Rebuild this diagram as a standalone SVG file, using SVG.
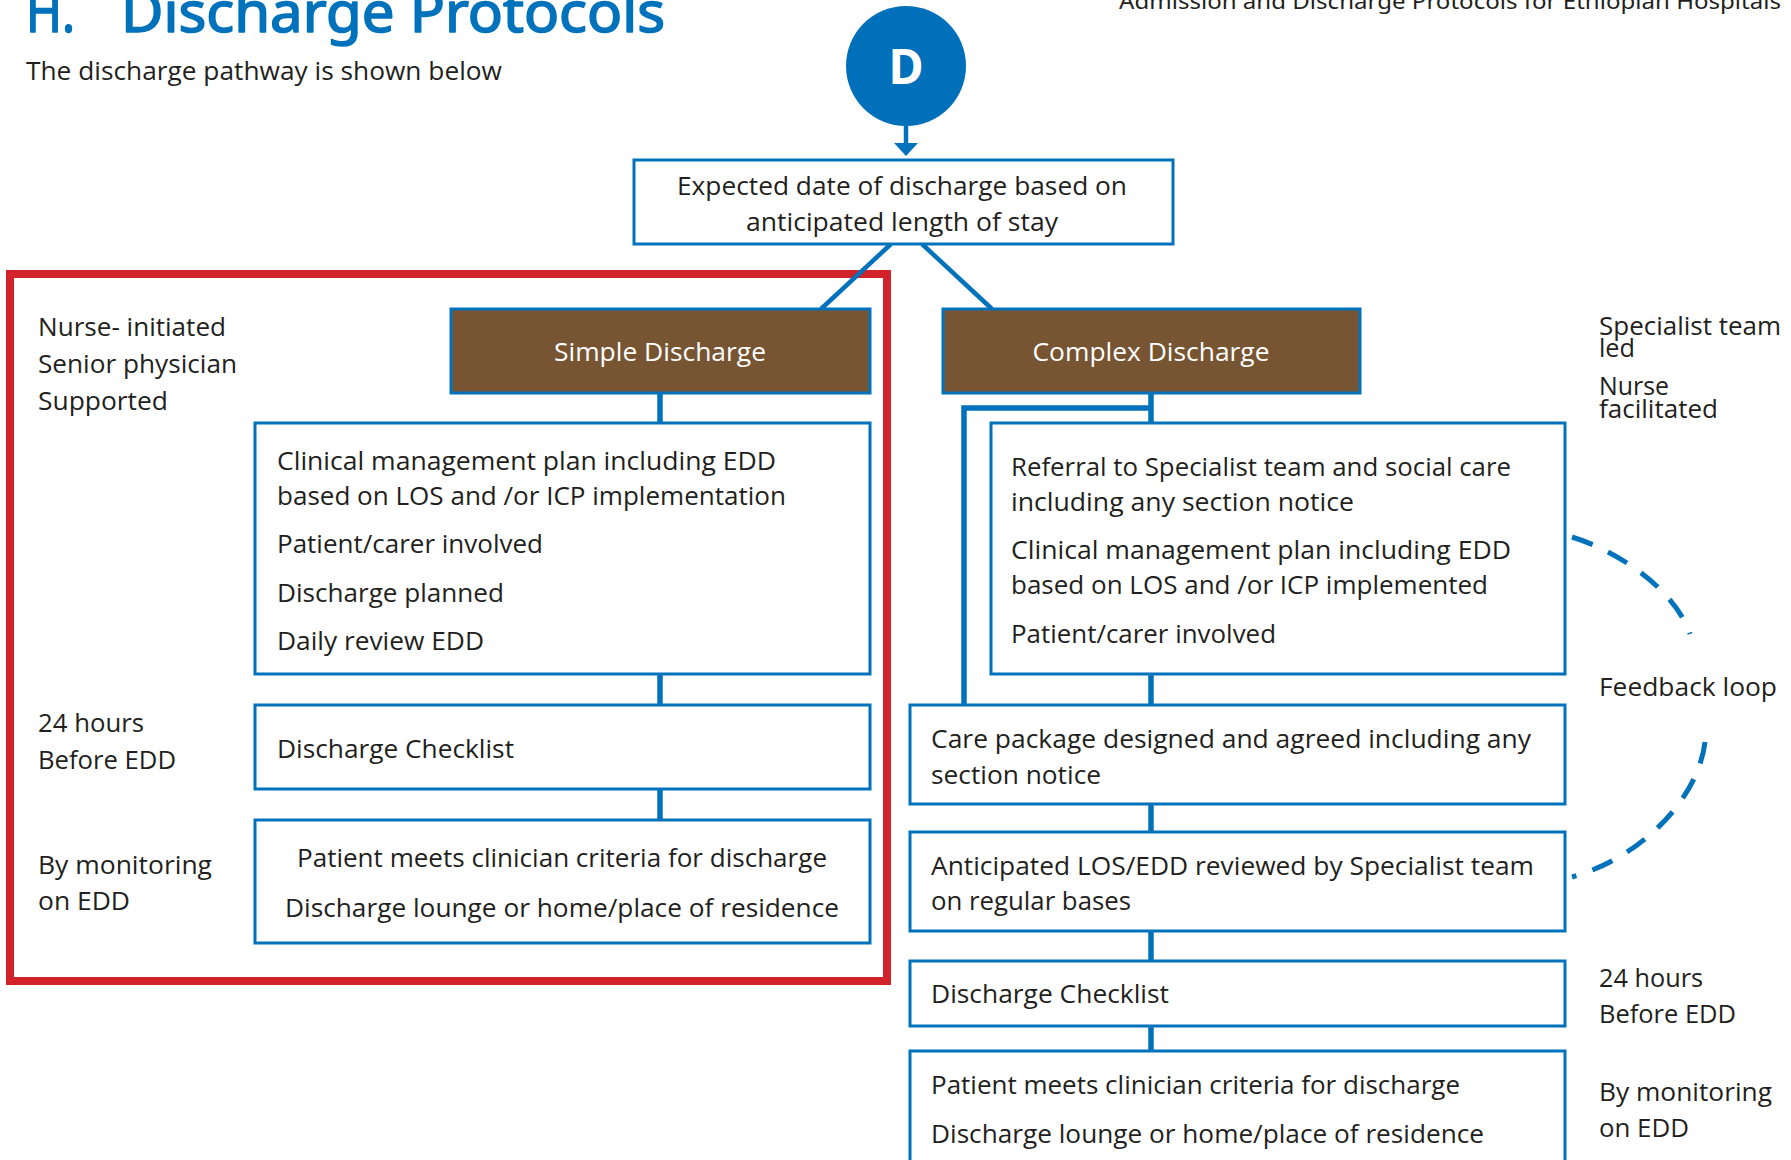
<svg xmlns="http://www.w3.org/2000/svg" width="1791" height="1160" viewBox="0 0 1791 1160">
<style>
.t{font-family:"Open Sans","Noto Sans",sans-serif;font-size:26px;fill:#231F20}
.w{fill:#FFFFFF}
.box{fill:#FFFFFF;stroke:#0072BC;stroke-width:3}
.brown{fill:#785532;stroke:#0072BC;stroke-width:3}
.conn{stroke:#0072BC;stroke-width:5.5;fill:none}
.diag{stroke:#0072BC;stroke-width:4.5;fill:none}
.dash{stroke:#0072BC;stroke-width:5;fill:none;stroke-dasharray:22 17}
.title{font-family:"Noto Sans","Open Sans",sans-serif;fill:#0072BC;stroke:#0072BC;stroke-width:1.6;stroke-linejoin:round}
</style>
<rect width="1791" height="1160" fill="#FFFFFF"/>

<g id="header">
<text class="title" x="26" y="32" font-size="56" textLength="49" lengthAdjust="spacingAndGlyphs">H.</text>
<text class="title" x="121" y="32" font-size="56" textLength="544" lengthAdjust="spacingAndGlyphs">Discharge Protocols</text>
<text x="1119" y="9" font-family="Noto Sans, sans-serif" font-size="22" fill="#231F20" textLength="662" lengthAdjust="spacingAndGlyphs">Admission and Discharge Protocols for Ethiopian Hospitals</text>
<text class="t" x="26" y="80" textLength="476" lengthAdjust="spacingAndGlyphs">The discharge pathway is shown below</text>
</g>

<g id="simple-region">
<rect x="10" y="274" width="877" height="707" fill="none" stroke="#D2232A" stroke-width="8"/>
</g>

<g id="connectors">
<line class="diag" x1="906" y1="126" x2="906" y2="145" stroke-width="4"/>
<polygon points="894,143 918,143 906,156" fill="#0072BC"/>
<line class="diag" x1="891" y1="244" x2="821" y2="309"/>
<line class="diag" x1="922" y1="244" x2="992" y2="309"/>
<line class="conn" x1="660" y1="393" x2="660" y2="423"/>
<line class="conn" x1="660" y1="674" x2="660" y2="705"/>
<line class="conn" x1="660" y1="789" x2="660" y2="820"/>
<line class="conn" x1="1151" y1="393" x2="1151" y2="423"/>
<polyline class="conn" points="1151,408 964,408 964,705"/>
<line class="conn" x1="1151" y1="674" x2="1151" y2="705"/>
<line class="conn" x1="1151" y1="804" x2="1151" y2="832"/>
<line class="conn" x1="1151" y1="931" x2="1151" y2="961"/>
<line class="conn" x1="1151" y1="1026" x2="1151" y2="1051"/>
<path class="dash" d="M1572,537 C1620,552 1675,590 1690,634"/>
<path class="dash" d="M1705,742 C1698,800 1640,858 1572,877"/>
</g>

<g id="node-d">
<circle cx="906" cy="66" r="60" fill="#0070BA"/>
<text x="906" y="84" text-anchor="middle" font-family="Noto Sans, sans-serif" font-weight="bold" font-size="48" fill="#FFFFFF">D</text>
</g>

<g id="node-edd">
<rect class="box" x="634" y="160" width="539" height="84"/>
<text class="t" x="902" y="195" text-anchor="middle" textLength="450" lengthAdjust="spacingAndGlyphs">Expected date of discharge based on</text>
<text class="t" x="902" y="231" text-anchor="middle" textLength="312" lengthAdjust="spacingAndGlyphs">anticipated length of stay</text>
</g>

<g id="labels-simple">
<text class="t" x="38" y="336" textLength="188" lengthAdjust="spacingAndGlyphs">Nurse- initiated</text>
<text class="t" x="38" y="373" textLength="199" lengthAdjust="spacingAndGlyphs">Senior physician</text>
<text class="t" x="38" y="410" textLength="130" lengthAdjust="spacingAndGlyphs">Supported</text>
<text class="t" x="38" y="732" textLength="106" lengthAdjust="spacingAndGlyphs">24 hours</text>
<text class="t" x="38" y="769" textLength="138" lengthAdjust="spacingAndGlyphs">Before EDD</text>
<text class="t" x="38" y="874" textLength="174" lengthAdjust="spacingAndGlyphs">By monitoring</text>
<text class="t" x="38" y="910" textLength="92" lengthAdjust="spacingAndGlyphs">on EDD</text>
</g>

<g id="node-simple">
<rect class="brown" x="451" y="309" width="419" height="84"/>
<text class="t w" x="660" y="361" text-anchor="middle" textLength="212" lengthAdjust="spacingAndGlyphs">Simple Discharge</text>
</g>

<g id="node-simple-plan">
<rect class="box" x="255" y="423" width="615" height="251"/>
<text class="t" x="277" y="470" textLength="499" lengthAdjust="spacingAndGlyphs">Clinical management plan including EDD</text>
<text class="t" x="277" y="505" textLength="509" lengthAdjust="spacingAndGlyphs">based on LOS and /or ICP implementation</text>
<text class="t" x="277" y="553" textLength="266" lengthAdjust="spacingAndGlyphs">Patient/carer involved</text>
<text class="t" x="277" y="602" textLength="227" lengthAdjust="spacingAndGlyphs">Discharge planned</text>
<text class="t" x="277" y="650" textLength="207" lengthAdjust="spacingAndGlyphs">Daily review EDD</text>
</g>

<g id="node-simple-checklist">
<rect class="box" x="255" y="705" width="615" height="84"/>
<text class="t" x="277" y="758" textLength="237" lengthAdjust="spacingAndGlyphs">Discharge Checklist</text>
</g>

<g id="node-simple-criteria">
<rect class="box" x="255" y="820" width="615" height="123"/>
<text class="t" x="562" y="867" text-anchor="middle" textLength="530" lengthAdjust="spacingAndGlyphs">Patient meets clinician criteria for discharge</text>
<text class="t" x="562" y="917" text-anchor="middle" textLength="554" lengthAdjust="spacingAndGlyphs">Discharge lounge or home/place of residence</text>
</g>

<g id="node-complex">
<rect class="brown" x="943" y="309" width="417" height="84"/>
<text class="t w" x="1151" y="361" text-anchor="middle" textLength="237" lengthAdjust="spacingAndGlyphs">Complex Discharge</text>
</g>

<g id="labels-complex">
<text class="t" x="1599" y="335" textLength="182" lengthAdjust="spacingAndGlyphs">Specialist team</text>
<text class="t" x="1599" y="357" textLength="36" lengthAdjust="spacingAndGlyphs">led</text>
<text class="t" x="1599" y="395" textLength="70" lengthAdjust="spacingAndGlyphs">Nurse</text>
<text class="t" x="1599" y="418" textLength="119" lengthAdjust="spacingAndGlyphs">facilitated</text>
<text class="t" x="1599" y="696" textLength="178" lengthAdjust="spacingAndGlyphs">Feedback loop</text>
<text class="t" x="1599" y="987" textLength="104" lengthAdjust="spacingAndGlyphs">24 hours</text>
<text class="t" x="1599" y="1023" textLength="137" lengthAdjust="spacingAndGlyphs">Before EDD</text>
<text class="t" x="1599" y="1101" textLength="173" lengthAdjust="spacingAndGlyphs">By monitoring</text>
<text class="t" x="1599" y="1137" textLength="90" lengthAdjust="spacingAndGlyphs">on EDD</text>
</g>

<g id="node-complex-referral">
<rect class="box" x="991" y="423" width="574" height="251"/>
<text class="t" x="1011" y="476" textLength="500" lengthAdjust="spacingAndGlyphs">Referral to Specialist team and social care</text>
<text class="t" x="1011" y="511" textLength="343" lengthAdjust="spacingAndGlyphs">including any section notice</text>
<text class="t" x="1011" y="559" textLength="500" lengthAdjust="spacingAndGlyphs">Clinical management plan including EDD</text>
<text class="t" x="1011" y="594" textLength="477" lengthAdjust="spacingAndGlyphs">based on LOS and /or ICP implemented</text>
<text class="t" x="1011" y="643" textLength="265" lengthAdjust="spacingAndGlyphs">Patient/carer involved</text>
</g>

<g id="node-care-package">
<rect class="box" x="910" y="705" width="655" height="99"/>
<text class="t" x="931" y="748" textLength="600" lengthAdjust="spacingAndGlyphs">Care package designed and agreed including any</text>
<text class="t" x="931" y="784" textLength="170" lengthAdjust="spacingAndGlyphs">section notice</text>
</g>

<g id="node-los-review">
<rect class="box" x="910" y="832" width="655" height="99"/>
<text class="t" x="931" y="875" textLength="603" lengthAdjust="spacingAndGlyphs">Anticipated LOS/EDD reviewed by Specialist team</text>
<text class="t" x="931" y="910" textLength="200" lengthAdjust="spacingAndGlyphs">on regular bases</text>
</g>

<g id="node-complex-checklist">
<rect class="box" x="910" y="961" width="655" height="65"/>
<text class="t" x="931" y="1003" textLength="238" lengthAdjust="spacingAndGlyphs">Discharge Checklist</text>
</g>

<g id="node-complex-criteria">
<rect class="box" x="910" y="1051" width="655" height="130"/>
<text class="t" x="931" y="1094" textLength="529" lengthAdjust="spacingAndGlyphs">Patient meets clinician criteria for discharge</text>
<text class="t" x="931" y="1143" textLength="553" lengthAdjust="spacingAndGlyphs">Discharge lounge or home/place of residence</text>
</g>
</svg>
